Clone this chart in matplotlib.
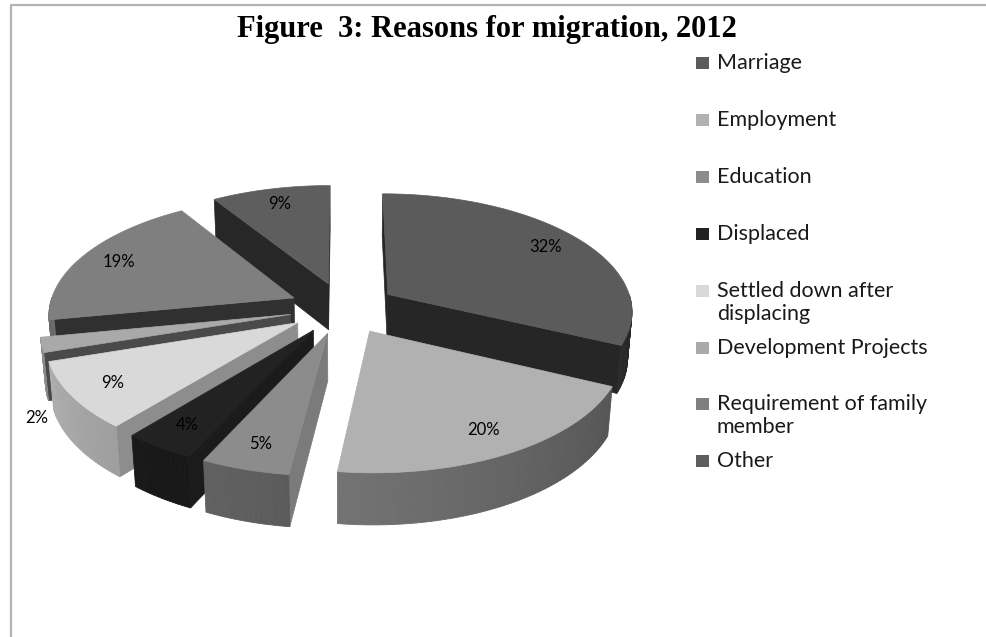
import numpy as np
import matplotlib.pyplot as plt
from matplotlib.patches import Polygon, Rectangle

# Reasons for migration, shares in percent (clockwise from 12 o'clock)
labels = ['Marriage', 'Employment', 'Education', 'Displaced',
          'Settled down after\ndisplacing', 'Development Projects',
          'Requirement of family\nmember', 'Other']
shares = [32, 20, 5, 4, 9, 2, 19, 9]
colors = ['#5b5b5b', '#b1b1b1', '#8c8c8c', '#222222',
          '#d9d9d9', '#a9a9a9', '#7f7f7f', '#5e5e5e']
# darkening of the cut faces of each slice
face_shade = [0.42, 0.6, 0.88, 0.8, 0.65, 0.44, 0.38, 0.42]

# 3d pie geometry (pixel space)
CX, CY = 343, 308
SCALE = 245
TILT = np.radians(28.5)
DIST = 6.8
THICK = 0.22
EXPLODE = 0.22
cam = DIST * np.array([0.0, -np.cos(TILT), np.sin(TILT)])


def project(x, y, z):
    v = y * np.sin(TILT) + z * np.cos(TILT)
    w = -y * np.cos(TILT) + z * np.sin(TILT)
    f = DIST / (DIST - w)
    return CX + SCALE * x * f, CY - SCALE * v * f


def shade(hexcol, k):
    rgb = np.array([int(hexcol[i:i + 2], 16) for i in (1, 3, 5)]) / 255.0
    return tuple(np.clip(rgb * k, 0, 1))


fig = plt.figure(figsize=(9.87, 6.37), dpi=100)
ax = fig.add_axes([0, 0, 1, 1])
ax.set_xlim(0, 987)
ax.set_ylim(637, 0)
ax.axis('off')

# chart frame
ax.plot([11, 11, 987], [637, 5, 5], color='#b3b3b3', lw=1.6, zorder=0)

ax.text(487, 30, 'Figure  3: Reasons for migration, 2012', ha='center', va='center',
        fontsize=22, fontweight='bold', family='Liberation Serif')

# build slices
slices = []
cum = 0
for i, s in enumerate(shares):
    a2 = 90 - 3.6 * cum
    a1 = a2 - 3.6 * s
    cum += s
    mid = np.radians((a1 + a2) / 2)
    off = EXPLODE * np.array([np.cos(mid), np.sin(mid)])
    slices.append((i, np.radians(a1), np.radians(a2), mid, off))

# back slices first
order = sorted(slices, key=lambda t: -t[4][1])
z = 1
for i, a1, a2, mid, off in order:
    col = colors[i]
    ox, oy = off

    # radial cut faces
    for a, n in ((a1, np.array([np.sin(a1), -np.cos(a1)])),
                 (a2, np.array([-np.sin(a2), np.cos(a2)]))):
        px = ox + 0.5 * np.cos(a)
        py = oy + 0.5 * np.sin(a)
        d = n[0] * (cam[0] - px) + n[1] * (cam[1] - py)
        if d <= 1e-9:
            continue
        rx, ry = ox + np.cos(a), oy + np.sin(a)
        pts = [project(ox, oy, 0), project(rx, ry, 0),
               project(rx, ry, -THICK), project(ox, oy, -THICK)]
        ax.add_patch(Polygon(pts, closed=True, fc=shade(col, face_shade[i]),
                             ec=shade(col, face_shade[i]), lw=0.5, zorder=z))

    # curved outer wall, front half only
    thetas = np.linspace(a1, a2, max(2, int(np.degrees(a2 - a1)) + 1))
    for t0, t1 in zip(thetas[:-1], thetas[1:]):
        tm = 0.5 * (t0 + t1)
        if np.sin(tm) >= 0:
            continue
        tn = (np.degrees(tm) + 180) % 360 - 180
        k = 0.85 - 0.43 * (tn + 180) / 180
        c = shade(col, k)
        pts = [project(ox + np.cos(t0), oy + np.sin(t0), 0),
               project(ox + np.cos(t1), oy + np.sin(t1), 0),
               project(ox + np.cos(t1), oy + np.sin(t1), -THICK),
               project(ox + np.cos(t0), oy + np.sin(t0), -THICK)]
        ax.add_patch(Polygon(pts, closed=True, fc=c, ec=c, lw=0.6, zorder=z))

    # top surface
    arc = np.linspace(a1, a2, 80)
    top = [project(ox, oy, 0)] + [project(ox + np.cos(t), oy + np.sin(t), 0) for t in arc]
    ax.add_patch(Polygon(top, closed=True, fc=col, ec=col, lw=0.5, zorder=z + 1))
    z += 2

# percentage labels
for i, a1, a2, mid, off in slices:
    if shares[i] < 3:
        x, y = project(off[0] + 1.05 * np.cos(mid), off[1] + 1.05 * np.sin(mid), -1.5 * THICK)
    else:
        x, y = project(off[0] + 0.83 * np.cos(mid), off[1] + 0.83 * np.sin(mid), 0)
    ax.text(x, y, f'{shares[i]}%', ha='center', va='center', fontsize=12,
            family='Lato', color='black', zorder=100)

# legend
for i, lab in enumerate(labels):
    y = 63 + 56.9 * i
    ax.add_patch(Rectangle((696, y - 6), 13, 12, fc=colors[i], ec='none', zorder=100))
    for j, line in enumerate(lab.split('\n')):
        ax.text(717, y + 23 * j, line, ha='left', va='center', fontsize=15.5,
                family='Lato', color='#1a1a1a', zorder=100)

fig.savefig('out.png', dpi=100)
